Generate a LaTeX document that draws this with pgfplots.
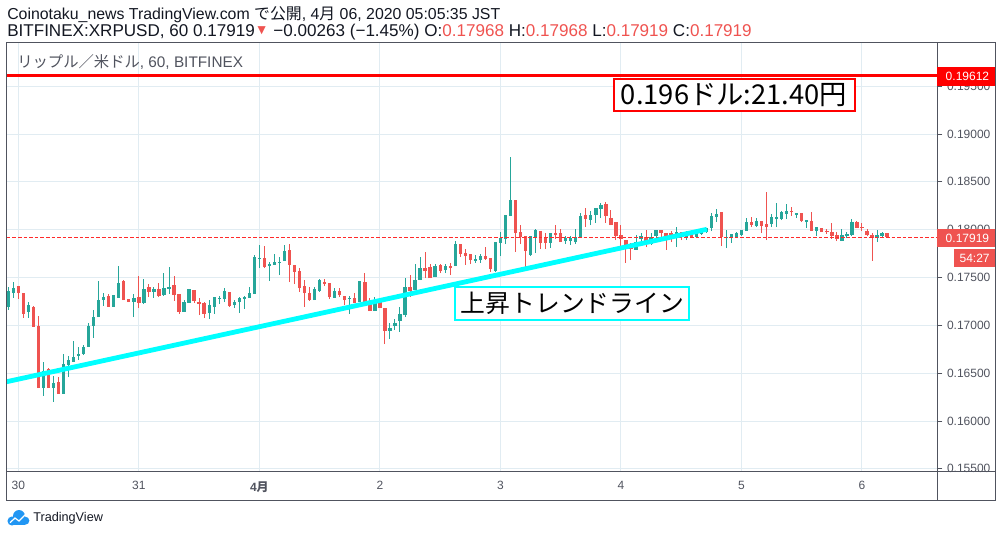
\documentclass[border=0pt]{standalone}
\usepackage{fontspec}
\setmainfont{Liberation Sans}
\newfontfamily\jp{Noto Sans CJK JP}
\newfontfamily\dv{DejaVu Sans}
\usepackage{pgfplots}
\pgfplotsset{compat=1.18}
\usepackage{pgfplotstable}
\definecolor{cg}{HTML}{26A69A}
\definecolor{cr}{HTML}{EF5350}
\definecolor{cdash}{HTML}{FF2A2A}
\definecolor{gridc}{HTML}{E1ECF2}
\definecolor{axc}{HTML}{50535E}
\definecolor{txt}{HTML}{131722}
\definecolor{tvblue}{HTML}{2196F3}
\definecolor{cyanl}{HTML}{00FFFF}

\pgfplotstableread{
t o h l c
-2 0.17192 0.17401 0.17161 0.17359
-1 0.17338 0.17453 0.17286 0.17390
2 0.17140 0.17244 0.17077 0.17213
5 0.16345 0.16617 0.16262 0.16523
7 0.16345 0.16471 0.16199 0.16397
9 0.16283 0.16701 0.16283 0.16596
10 0.16586 0.16680 0.16460 0.16638
11 0.16617 0.16837 0.16617 0.16670
12 0.16680 0.16774 0.16638 0.16701
13 0.16701 0.16795 0.16690 0.16774
14 0.16774 0.17025 0.16774 0.16993
15 0.16993 0.17161 0.16868 0.17087
16 0.17087 0.17464 0.17087 0.17265
17 0.17265 0.17338 0.17202 0.17296
19 0.17192 0.17317 0.17192 0.17317
20 0.17286 0.17620 0.17286 0.17443
23 0.17244 0.17328 0.17087 0.17286
25 0.17234 0.17484 0.17223 0.17380
27 0.17349 0.17401 0.17286 0.17380
29 0.17317 0.17547 0.17307 0.17390
30 0.17380 0.17610 0.17328 0.17401
33 0.17140 0.17265 0.17140 0.17244
34 0.17234 0.17380 0.17234 0.17380
38 0.17129 0.17265 0.17066 0.17213
39 0.17192 0.17296 0.17119 0.17296
40 0.17275 0.17307 0.17223 0.17286
41 0.17275 0.17390 0.17244 0.17359
43 0.17213 0.17265 0.17181 0.17244
44 0.17244 0.17296 0.17129 0.17286
45 0.17275 0.17307 0.17171 0.17296
46 0.17286 0.17401 0.17286 0.17338
47 0.17328 0.17735 0.17328 0.17714
48 0.17693 0.17840 0.17599 0.17704
50 0.17620 0.17662 0.17464 0.17641
51 0.17631 0.17746 0.17631 0.17662
52 0.17652 0.17714 0.17526 0.17662
53 0.17673 0.17840 0.17673 0.17777
59 0.17265 0.17401 0.17265 0.17380
60 0.17359 0.17484 0.17349 0.17474
63 0.17286 0.17390 0.17286 0.17359
66 0.17275 0.17307 0.17119 0.17286
68 0.17244 0.17464 0.17244 0.17464
71 0.17150 0.17296 0.17150 0.17244
74 0.16941 0.17025 0.16857 0.16972
75 0.16993 0.17066 0.16952 0.17025
76 0.17046 0.17192 0.16931 0.17119
77 0.17108 0.17495 0.17087 0.17401
79 0.17370 0.17641 0.17370 0.17474
80 0.17474 0.17714 0.17474 0.17599
83 0.17505 0.17641 0.17505 0.17620
85 0.17579 0.17641 0.17547 0.17620
87 0.17620 0.17881 0.17620 0.17850
91 0.17673 0.17735 0.17652 0.17693
92 0.17683 0.17746 0.17652 0.17725
95 0.17568 0.17871 0.17558 0.17871
96 0.17861 0.17976 0.17725 0.17913
97 0.17902 0.18153 0.17850 0.18153
98 0.18143 0.18759 0.18143 0.18310
102 0.17735 0.17934 0.17725 0.17934
103 0.17923 0.18007 0.17756 0.17997
106 0.17861 0.17965 0.17808 0.17965
109 0.17881 0.17934 0.17850 0.17913
110 0.17881 0.17934 0.17840 0.17913
111 0.17871 0.18007 0.17850 0.17923
112 0.17923 0.18174 0.17923 0.18143
114 0.18101 0.18195 0.18049 0.18153
115 0.18153 0.18226 0.18070 0.18226
116 0.18216 0.18279 0.18122 0.18258
123 0.17788 0.17944 0.17788 0.17871
124 0.17902 0.17965 0.17861 0.17934
126 0.17850 0.17965 0.17840 0.17923
127 0.17934 0.17997 0.17871 0.17997
131 0.17934 0.18028 0.17819 0.17976
133 0.17923 0.17986 0.17892 0.17965
135 0.17923 0.17965 0.17913 0.17965
136 0.17955 0.17976 0.17944 0.17976
137 0.17976 0.18017 0.17965 0.18017
138 0.18017 0.18174 0.17986 0.18143
139 0.18132 0.18216 0.18080 0.18164
141 0.17913 0.17997 0.17808 0.17923
142 0.17913 0.17955 0.17861 0.17955
143 0.17923 0.17976 0.17923 0.17965
144 0.17944 0.17997 0.17934 0.17997
145 0.17986 0.18122 0.17986 0.18080
147 0.18038 0.18122 0.18028 0.18091
150 0.18059 0.18164 0.18028 0.18132
151 0.18111 0.18279 0.18028 0.18132
152 0.18111 0.18195 0.18101 0.18185
153 0.18164 0.18268 0.18111 0.18195
155 0.18153 0.18174 0.18122 0.18174
157 0.18080 0.18101 0.18017 0.18101
159 0.17986 0.18028 0.17934 0.18028
164 0.17881 0.18007 0.17881 0.17944
165 0.17934 0.17976 0.17913 0.17955
166 0.17944 0.18111 0.17934 0.18080
171 0.17913 0.17997 0.17871 0.17944
172 0.17934 0.17976 0.17923 0.17965
}\greentab

\pgfplotstableread{
t o h l c
0 0.17411 0.17411 0.17275 0.17338
1 0.17338 0.17338 0.17077 0.17119
3 0.17192 0.17202 0.16983 0.16983
4 0.16993 0.17098 0.16345 0.16345
6 0.16544 0.16554 0.16345 0.16345
8 0.16408 0.16460 0.16283 0.16283
18 0.17307 0.17328 0.17192 0.17192
21 0.17464 0.17474 0.17265 0.17265
22 0.17275 0.17275 0.17244 0.17244
24 0.17296 0.17516 0.17181 0.17234
26 0.17401 0.17432 0.17296 0.17349
28 0.17380 0.17443 0.17296 0.17307
31 0.17422 0.17516 0.17255 0.17317
32 0.17328 0.17328 0.17119 0.17140
35 0.17370 0.17370 0.17234 0.17255
36 0.17244 0.17286 0.17108 0.17223
37 0.17234 0.17244 0.17077 0.17119
42 0.17349 0.17349 0.17192 0.17202
49 0.17704 0.17829 0.17599 0.17610
54 0.17788 0.17850 0.17453 0.17631
55 0.17631 0.17631 0.17432 0.17558
56 0.17568 0.17599 0.17349 0.17390
57 0.17411 0.17474 0.17192 0.17338
58 0.17338 0.17401 0.17255 0.17265
61 0.17453 0.17484 0.17411 0.17432
62 0.17443 0.17443 0.17275 0.17296
64 0.17359 0.17390 0.17296 0.17317
65 0.17307 0.17307 0.17213 0.17265
67 0.17286 0.17338 0.17234 0.17234
69 0.17453 0.17547 0.17202 0.17202
70 0.17255 0.17286 0.17150 0.17150
72 0.17244 0.17275 0.17181 0.17181
73 0.17181 0.17181 0.16805 0.16941
78 0.17401 0.17526 0.17296 0.17359
81 0.17599 0.17767 0.17495 0.17568
82 0.17610 0.17641 0.17495 0.17495
84 0.17631 0.17641 0.17547 0.17568
86 0.17620 0.17652 0.17526 0.17599
88 0.17850 0.17850 0.17714 0.17746
89 0.17756 0.17798 0.17631 0.17725
90 0.17746 0.17746 0.17641 0.17683
93 0.17725 0.17819 0.17683 0.17693
94 0.17704 0.17704 0.17558 0.17589
99 0.18310 0.18310 0.17767 0.17965
100 0.17976 0.18049 0.17850 0.17923
101 0.17934 0.17934 0.17610 0.17777
104 0.17986 0.17986 0.17798 0.17861
105 0.17913 0.17965 0.17798 0.17861
107 0.17965 0.18049 0.17902 0.17944
108 0.17965 0.18007 0.17871 0.17871
113 0.18153 0.18226 0.18028 0.18111
117 0.18268 0.18289 0.18070 0.18143
118 0.18122 0.18206 0.18049 0.18049
119 0.18080 0.18080 0.17892 0.17934
120 0.17944 0.18049 0.17798 0.17902
121 0.17892 0.17892 0.17652 0.17840
122 0.17819 0.17861 0.17683 0.17798
125 0.17923 0.17997 0.17819 0.17871
128 0.17997 0.17997 0.17923 0.17965
129 0.17965 0.17965 0.17788 0.17892
130 0.17965 0.17986 0.17871 0.17934
132 0.17976 0.17976 0.17892 0.17923
134 0.17976 0.17976 0.17913 0.17923
140 0.18185 0.18185 0.17829 0.17923
146 0.18080 0.18132 0.18028 0.18049
148 0.18091 0.18091 0.17965 0.18038
149 0.18059 0.18394 0.17892 0.18028
154 0.18195 0.18237 0.18143 0.18185
156 0.18174 0.18174 0.18080 0.18091
158 0.18091 0.18185 0.17986 0.17986
160 0.18017 0.18017 0.17976 0.17976
161 0.17986 0.18007 0.17955 0.17976
162 0.17976 0.18070 0.17902 0.17934
163 0.17944 0.17976 0.17881 0.17902
167 0.18080 0.18091 0.18017 0.18017
168 0.18028 0.18070 0.17986 0.18017
169 0.17986 0.18007 0.17934 0.17944
170 0.17944 0.17965 0.17673 0.17913
173 0.17968 0.17968 0.17919 0.17919
}\redtab

\begin{document}
\begin{tikzpicture}
\useasboundingbox (0,0) rectangle (751.5pt,-402.75pt);
\begin{axis}[
  at={(5.025pt,-353.775pt)}, anchor=south west,
  scale only axis, width=697.95pt, height=322.275pt,
  xmin=-2.32, xmax=183.0, ymin=0.15470, ymax=0.19962,
  clip mode=individual,
  axis line style={draw=axc, line width=0.75pt},
  xtick={0,24,48,72,96,120,144,168},
  xticklabels={30,31,{\bfseries 4{\jp 月}},2,3,4,5,6},
  ytick={0.155,0.16,0.165,0.17,0.175,0.18,0.185,0.19,0.195},
  yticklabels={0.15500,0.16000,0.16500,0.17000,0.17500,0.18000,0.18500,0.19000,0.19500},
  scaled y ticks=false,
  xtick pos=bottom, ytick pos=right,
  tick align=outside,
  major tick length=3.75pt,
  xtick style={draw=none},
  ytick style={draw=axc, line width=0.75pt},
  grid=major,
  major grid style={draw=gridc, line width=0.75pt},
  tick label style={font=\fontsize{9}{10}\selectfont, text=axc},
]
% wicks
\addplot[draw=none, mark=none, forget plot, error bars/.cd, y dir=plus, y explicit, error mark=none,
  error bar style={draw=cg, line width=0.75pt}]
  table[x=t, y=l, y error expr=\thisrow{h}-\thisrow{l}] {\greentab};
\addplot[draw=none, mark=none, forget plot, error bars/.cd, y dir=plus, y explicit, error mark=none,
  error bar style={draw=cr, line width=0.75pt}]
  table[x=t, y=l, y error expr=\thisrow{h}-\thisrow{l}] {\redtab};
% bodies
\addplot[draw=none, mark=none, forget plot, error bars/.cd, y dir=plus, y explicit, error mark=none,
  error bar style={draw=cg, line width=2.5pt}]
  table[x=t, y=o, y error expr=\thisrow{c}-\thisrow{o}] {\greentab};
\addplot[draw=none, mark=none, forget plot, error bars/.cd, y dir=plus, y explicit, error mark=none,
  error bar style={draw=cr, line width=2.5pt}]
  table[x=t, y=c, y error expr=\thisrow{o}-\thisrow{c}] {\redtab};
% current price line
\addplot[color=cdash, line width=1.2pt, line cap=butt, dash pattern=on 2.8pt off 1.4pt] coordinates {(-2.32,0.17919) (183,0.17919)};
% horizontal red line
\addplot[red, line width=2.4pt] coordinates {(-2.32,0.19612) (183,0.19612)};
% trend line
\addplot[cyanl, line width=3.6pt] coordinates {(-2.32,0.16411) (137.1,0.18004)};
\end{axis}
% frames
\draw[axc, line width=0.75pt] (5.025pt,-31.5pt) rectangle (746.25pt,-375pt);
\draw[axc, line width=0.75pt] (5.025pt,-353.775pt) -- (746.25pt,-353.775pt);
\draw[axc, line width=0.75pt] (702.975pt,-31.5pt) -- (702.975pt,-375pt);
% price labels
\fill[red] (702.975pt,-50.25pt) rectangle (746.25pt,-64.275pt);
\node[anchor=west, text=white, inner sep=0pt, font=\fontsize{9}{10}\selectfont] at (709.1pt,-57.3pt) {0.19612};
\fill[cr] (702.975pt,-171.75pt) rectangle (746.25pt,-185.25pt);
\node[anchor=west, text=white, inner sep=0pt, font=\fontsize{9}{10}\selectfont] at (709.1pt,-178.5pt) {0.17919};
\fill[cr] (715.5pt,-186.975pt) rectangle (746.25pt,-200.475pt);
\node[anchor=west, text=white, inner sep=0pt, font=\fontsize{9}{10}\selectfont] at (719.5pt,-193.7pt) {54:27};
% annotation boxes
\draw[red, line width=1.5pt, fill=white] (460.5pt,-59.25pt) rectangle (641.25pt,-83.25pt);
\node[anchor=west, inner sep=0pt, text=black, font=\jp\fontsize{20.5}{22}\selectfont] at (465.5pt,-71.4pt) {0.196ドル:21.40円};
\draw[cyanl, line width=1.5pt, fill=white] (341.25pt,-215.25pt) rectangle (516.75pt,-240pt);
\node[anchor=west, inner sep=0pt, text=black, font=\jp\fontsize{18.6}{20}\selectfont] at (345.5pt,-227.6pt) {上昇トレンドライン};
% header
\node[anchor=west, inner sep=0pt, text=txt, font=\fontsize{11.9}{13}\selectfont] at (5.25pt,-10.9pt)
  {Coinotaku\_news TradingView.com {\jp で公開}, 4{\jp 月} 06, 2020 05:05:35 JST};
\node[anchor=west, inner sep=0pt, text=txt, font=\fontsize{12.8}{14}\selectfont] at (5.25pt,-24.2pt)
  {BITFINEX:XRPUSD, 60 0.17919\,{\color{cr}\dv\fontsize{8}{8}\selectfont\raisebox{2.5pt}{▼}}\, −0.00263 (−1.45\%) O:{\color{cr}0.17968} H:{\color{cr}0.17968} L:{\color{cr}0.17919} C:{\color{cr}0.17919}};
\node[anchor=west, inner sep=0pt, text=axc, font=\fontsize{11.5}{13}\selectfont] at (12.75pt,-46.5pt)
  {{\jp リップル／米ドル}, 60, BITFINEX};
% logo
\fill[tvblue] (9pt,-390.75pt) circle (3.4pt);
\fill[tvblue] (14.25pt,-387pt) circle (4.5pt);
\fill[tvblue] (19pt,-390.5pt) circle (3pt);
\fill[tvblue] (9pt,-388.5pt) rectangle (19pt,-393.5pt);
\draw[white, line width=0.9pt] (7.5pt,-392pt) -- (11.25pt,-388.5pt) -- (14.25pt,-390.75pt) -- (19.5pt,-385.5pt);
\node[anchor=west, inner sep=0pt, text=txt, font=\fontsize{9.5}{11}\selectfont] at (24.75pt,-388.5pt) {TradingView};
\end{tikzpicture}
\end{document}
